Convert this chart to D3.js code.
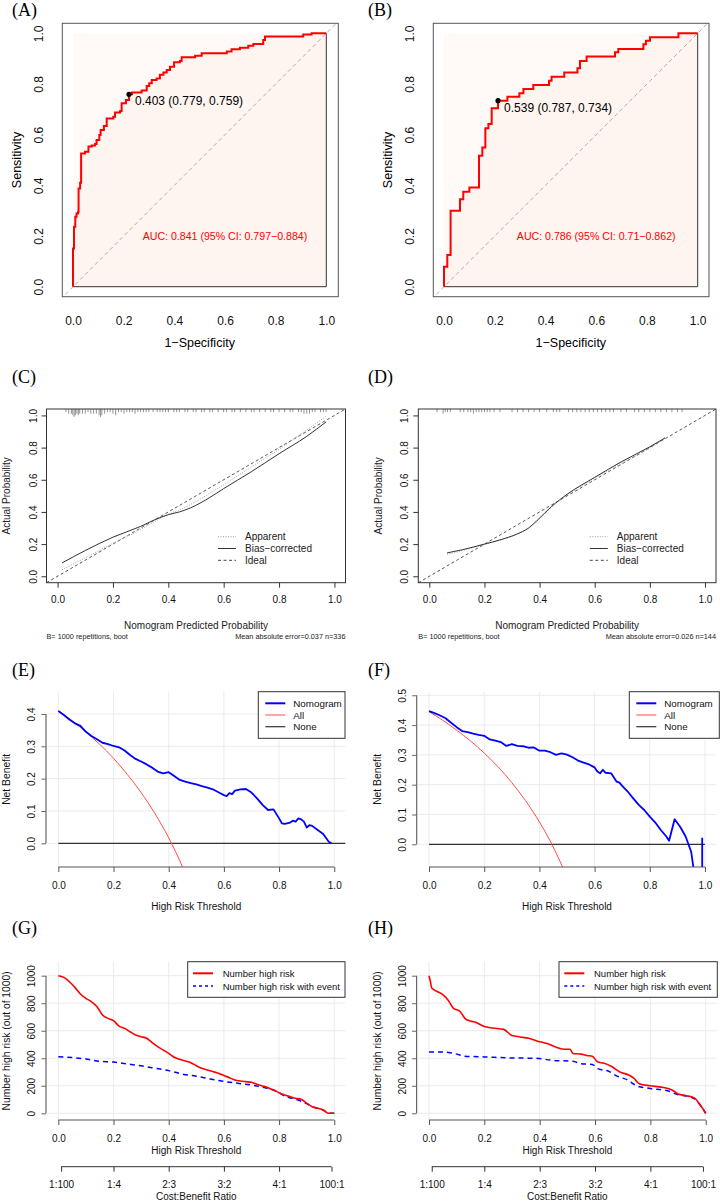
<html>
<head>
<title>Nomogram evaluation</title>
<style>body{margin:0;background:#fff}</style>
</head>
<body>
<div id="chart-area"></div>
<script src="https://d3js.org/d3.v7.min.js"></script>
<script>

// ---------- data ----------
// ROC (A) training, (B) validation : 1-specificity / sensitivity corners
const rocA_fpr = [0,0,0.004,0.009,0.014,0.020,0.022,0.028,0.032,0.047,0.061,0.074,0.087,0.093,0.104,0.109,0.122,0.133,0.159,0.166,0.186,0.192,0.209,0.221,0.233,0.271,0.291,0.301,0.311,0.330,0.343,0.357,0.370,0.383,0.399,0.422,0.429,0.482,0.508,0.607,0.626,0.659,0.692,0.712,0.751,0.758,0.909,0.942,1]
const rocA_tpr = [0,0.151,0.237,0.276,0.289,0.296,0.388,0.41,0.526,0.533,0.553,0.557,0.563,0.579,0.599,0.618,0.634,0.664,0.671,0.687,0.693,0.724,0.737,0.759,0.766,0.774,0.792,0.803,0.816,0.822,0.836,0.845,0.855,0.868,0.886,0.891,0.905,0.911,0.921,0.928,0.937,0.943,0.951,0.958,0.974,0.987,0.995,1,1]
const rocB_fpr = [0,0,0.013,0.026,0.063,0.076,0.100,0.138,0.151,0.163,0.175,0.188,0.213,0.250,0.297,0.313,0.352,0.414,0.424,0.474,0.526,0.536,0.562,0.674,0.687,0.786,0.796,0.812,0.924,1]
const rocB_tpr = [0,0.079,0.125,0.3,0.345,0.375,0.391,0.517,0.549,0.625,0.642,0.704,0.734,0.75,0.763,0.78,0.796,0.813,0.829,0.845,0.862,0.891,0.908,0.925,0.938,0.957,0.971,0.984,1,1]
const bestA = [0.221, 0.759], bestB = [0.213, 0.734]
const bestA_label = "0.403 (0.779, 0.759)", bestB_label = "0.539 (0.787, 0.734)"
const aucA_label = "AUC: 0.841 (95% CI: 0.797\u22120.884)", aucB_label = "AUC: 0.786 (95% CI: 0.71\u22120.862)"
const unitTicks = [0, 0.2, 0.4, 0.6, 0.8, 1.0]

// calibration (C) and (D)
const calC_pred = [0.016,0.1,0.2,0.3,0.352,0.40,0.44,0.48,0.55,0.6,0.7,0.8,0.9,0.97]
const calC_bias = [0.083,0.16,0.243,0.31,0.352,0.383,0.40,0.425,0.49,0.545,0.65,0.762,0.87,0.96]
const calC_appPred = [0.016,0.1,0.2,0.3,0.35,0.4,0.45,0.5,0.6,0.7,0.8,0.9,0.97]
const calC_app = [0.04,0.115,0.205,0.29,0.34,0.385,0.42,0.465,0.57,0.68,0.79,0.91,0.995]
const calD_pred = [0.064,0.12,0.2,0.26,0.317,0.36,0.39,0.444,0.5,0.6,0.7,0.8,0.855]
const calD_bias = [0.145,0.165,0.2,0.228,0.262,0.3,0.345,0.435,0.51,0.615,0.715,0.805,0.86]
const calD_app = [0.135,0.16,0.198,0.226,0.26,0.298,0.342,0.43,0.505,0.61,0.708,0.797,0.86]
const rugC_p = [0.03,0.04,0.05,0.055,0.06,0.065,0.07,0.075,0.08,0.09,0.10,0.11,0.12,0.13,0.14,0.15,0.155,0.16,0.17,0.18,0.19,0.20,0.21,0.22,0.23,0.24,0.25,0.26,0.27,0.28,0.29,0.30,0.31,0.32,0.33,0.345,0.36,0.37,0.38,0.39,0.40,0.42,0.43,0.44,0.46,0.47,0.49,0.50,0.52,0.53,0.55,0.56,0.58,0.60,0.61,0.63,0.64,0.66,0.68,0.70,0.71,0.73,0.75,0.77,0.78,0.80,0.82,0.84,0.85,0.87,0.88,0.89,0.90,0.91,0.92,0.93,0.95,0.96,0.97]
const rugC_n = [1,2,2,3,4,3,2,3,2,2,2,1,2,2,2,3,4,3,2,1,1,2,3,1,1,2,1,1,1,2,1,1,1,1,1,1,1,1,1,1,1,1,1,1,1,1,1,1,1,1,1,1,1,1,1,1,1,1,1,1,1,1,1,1,1,1,1,1,1,1,1,2,2,2,1,1,1,1,1]
const rugD_p = [0.028,0.05,0.058,0.066,0.076,0.112,0.125,0.14,0.15,0.16,0.17,0.18,0.19,0.20,0.21,0.22,0.235,0.256,0.30,0.32,0.34,0.36,0.38,0.40,0.426,0.45,0.462,0.473,0.505,0.52,0.535,0.55,0.565,0.58,0.595,0.61,0.625,0.64,0.655,0.668,0.695,0.715,0.744,0.76,0.78,0.80,0.82,0.84,0.86,0.88,0.90,0.917]
const rugD_n = [1,2,1,1,1,1,1,1,1,2,1,1,1,1,1,1,1,1,1,1,1,1,1,1,1,1,1,1,1,1,1,1,1,1,1,1,1,1,1,1,1,1,1,1,1,1,1,1,1,1,1,1]

// decision curves (E) and (F)
const dcaE_t = [0,0.02,0.04,0.06,0.08,0.10,0.12,0.14,0.16,0.18,0.20,0.22,0.24,0.26,0.28,0.30,0.32,0.34,0.36,0.38,0.40,0.42,0.44,0.46,0.48,0.50,0.52,0.54,0.56,0.58,0.60,0.61,0.62,0.63,0.64,0.66,0.68,0.70,0.72,0.74,0.76,0.78,0.80,0.81,0.82,0.84,0.85,0.86,0.87,0.88,0.89,0.90,0.91,0.92,0.94,0.96,0.98,0.99]
const dcaE_nom = [0.409,0.397,0.383,0.371,0.363,0.345,0.332,0.322,0.311,0.307,0.301,0.297,0.287,0.273,0.261,0.253,0.244,0.234,0.222,0.216,0.220,0.208,0.196,0.191,0.186,0.182,0.177,0.172,0.167,0.158,0.149,0.146,0.155,0.152,0.163,0.167,0.168,0.157,0.139,0.119,0.103,0.105,0.077,0.062,0.060,0.064,0.070,0.067,0.077,0.074,0.067,0.049,0.056,0.054,0.041,0.029,0.005,0]
const dcaAll_t = [0,0.05,0.1,0.15,0.2,0.25,0.3,0.35,0.4,0.45,0.5]
const dcaE_all = [0.41,0.379,0.344,0.306,0.263,0.213,0.157,0.092,0.017,-0.073,-0.18]
const dcaE_noneT = [0, 1.04]
const dcaF_t = [0,0.02,0.04,0.06,0.08,0.10,0.12,0.14,0.16,0.18,0.20,0.22,0.24,0.26,0.28,0.30,0.32,0.34,0.36,0.38,0.40,0.42,0.44,0.46,0.48,0.50,0.52,0.54,0.56,0.58,0.60,0.61,0.62,0.63,0.64,0.66,0.68,0.69,0.70,0.72,0.74,0.76,0.78,0.80,0.82,0.84,0.86,0.87,0.89,0.91,0.93,0.95,0.96,0.99,0.99]
const dcaF_nom = [0.447,0.440,0.432,0.423,0.408,0.393,0.380,0.376,0.371,0.367,0.364,0.352,0.348,0.343,0.330,0.336,0.330,0.329,0.324,0.325,0.314,0.314,0.309,0.300,0.305,0.301,0.292,0.281,0.274,0.268,0.258,0.244,0.238,0.250,0.240,0.238,0.210,0.207,0.196,0.177,0.154,0.132,0.115,0.093,0.073,0.048,0.026,0.012,0.084,0.059,0.026,-0.025,-0.09,-0.09,0.022]
const dcaF_all = [0.445,0.416,0.383,0.347,0.306,0.26,0.207,0.146,0.075,-0.009,-0.11]
const dcaF_noneT = [0, 1.0]
const dcaE_yTicks = [0, 0.1, 0.2, 0.3, 0.4]
const dcaF_yTicks = [0, 0.1, 0.2, 0.3, 0.4, 0.5]
const dcaLegend = ["Nomogram", "All", "None"]

// clinical impact (G) and (H)
const cicG_t = [0,0.02,0.04,0.06,0.08,0.10,0.12,0.14,0.16,0.18,0.20,0.22,0.24,0.26,0.28,0.30,0.32,0.34,0.36,0.38,0.40,0.42,0.44,0.46,0.48,0.50,0.52,0.54,0.56,0.58,0.60,0.62,0.64,0.66,0.68,0.70,0.72,0.74,0.76,0.78,0.80,0.82,0.84,0.86,0.88,0.90,0.92,0.94,0.96,0.98,1.0]
const cicG_high = [1000,988,956,915,867,835,811,775,714,690,673,634,617,593,569,557,545,513,484,460,436,407,392,380,368,346,327,315,303,291,274,259,242,235,230,225,211,199,186,169,150,133,121,109,102,73,48,36,24,0,0]
const cicG_evT = [0,0.05,0.1,0.15,0.2,0.25,0.3,0.35,0.4,0.45,0.5,0.55,0.6,0.65,0.7,0.75,0.8,0.82,0.85,0.9,0.92,0.95,0.97,0.98,1.0]
const cicG_event = [411,405,395,378,372,358,345,328,310,285,270,250,232,218,205,185,150,125,108,70,48,32,12,0,0]
const cicH_t = [0,0.005,0.01,0.03,0.05,0.07,0.09,0.11,0.13,0.15,0.17,0.20,0.23,0.27,0.30,0.33,0.36,0.40,0.43,0.46,0.49,0.51,0.52,0.55,0.57,0.59,0.61,0.63,0.66,0.69,0.72,0.74,0.76,0.80,0.84,0.88,0.90,0.93,0.96,0.98,1.0]
const cicH_high = [1000,960,910,885,862,820,760,745,690,670,660,630,620,610,565,555,545,520,505,480,465,465,435,430,420,415,372,365,340,300,280,255,215,200,190,168,140,128,110,60,0]
const cicH_evT = [0,0.05,0.07,0.10,0.13,0.20,0.30,0.38,0.45,0.52,0.55,0.59,0.61,0.65,0.68,0.72,0.75,0.80,0.86,0.90,0.93,0.96,0.98,1.0]
const cicH_event = [445,445,442,430,415,410,402,400,385,378,360,355,325,305,270,240,200,180,165,135,125,105,60,0]
const cicYTicks = [0, 200, 400, 600, 800, 1000]
const costT = [0.01, 0.2, 0.4, 0.6, 0.8, 0.99]
const costLabels = ["1:100", "1:4", "2:3", "3:2", "4:1", "100:1"]
const cicLegend = ["Number high risk", "Number high risk with event"]

// ---------- helpers ----------
const FONT = "'Liberation Sans', Arial, Helvetica, sans-serif"
const SERIF = "'Liberation Serif', 'Times New Roman', serif"

const svg = d3.select("#chart-area").append("svg")
    .attr("width", 720).attr("height", 1203)
    .style("display", "block")

function txt(g, x, y, s, size, o = {}) {
    return g.append("text")
        .attr("x", x).attr("y", y)
        .attr("font-family", o.family || FONT)
        .attr("font-size", size + "px")
        .attr("fill", o.fill || "#000")
        .attr("text-anchor", o.anchor || "middle")
        .attr("dominant-baseline", o.baseline || "central")
        .text(s)
}
function vtxt(g, x, y, s, size, fill) {
    return g.append("text")
        .attr("transform", `translate(${x},${y}) rotate(-90)`)
        .attr("font-family", FONT).attr("font-size", size + "px")
        .attr("fill", fill || "#000")
        .attr("text-anchor", "middle").attr("dominant-baseline", "central")
        .text(s)
}
function panelLabel(s, x, y) {
    txt(svg, x, y, s, 18, { family: SERIF, anchor: "start", baseline: "auto" })
}
// bottom axis with labels centred "off" px below
function bottomAxis(g, x, yPos, ticks, fmt, tick, off, size, color) {
    const ax = g.append("g").attr("transform", `translate(0,${yPos})`)
        .call(d3.axisBottom(x).tickValues(ticks).tickFormat(fmt).tickSize(tick))
        .call(a => a.select(".domain").remove())
    ax.selectAll("line").attr("stroke", color)
    ax.selectAll("text").attr("y", off).attr("dy", null)
        .attr("dominant-baseline", "central")
        .attr("font-family", FONT).attr("font-size", size + "px").attr("fill", "#111")
    return ax
}
function leftAxis(g, y, xPos, ticks, fmt, tick, off, size, color) {
    const ax = g.append("g").attr("transform", `translate(${xPos},0)`)
        .call(d3.axisLeft(y).tickValues(ticks).tickFormat(fmt).tickSize(tick))
        .call(a => a.select(".domain").remove())
    ax.selectAll("line").attr("stroke", color)
    ax.selectAll("text").attr("x", null).attr("dy", null)
        .attr("transform", `translate(${-off},0) rotate(-90)`)
        .attr("text-anchor", "middle").attr("dominant-baseline", "central")
        .attr("font-family", FONT).attr("font-size", size + "px").attr("fill", "#111")
    return ax
}
let clipN = 0
function clipRect(x0, y0, x1, y1) {
    const id = "clip" + (clipN++)
    svg.append("clipPath").attr("id", id).append("rect")
        .attr("x", x0).attr("y", y0).attr("width", x1 - x0).attr("height", y1 - y0)
    return `url(#${id})`
}

// ---------- ROC ----------
function drawRoc(L, fpr, tpr, best, bestLabel, aucLabel) {
    const g = svg.append("g")
    const x = d3.scaleLinear().domain([0, 1]).range([L.xa, L.xb])
    const y = d3.scaleLinear().domain([0, 1]).range([L.ya, L.yb])
    const pts = fpr.map((f, i) => [f, tpr[i]])

    g.append("rect").attr("x", x(0)).attr("y", y(1))
        .attr("width", x(1) - x(0)).attr("height", y(0) - y(1))
        .attr("fill", "#fffaf8")
    g.append("path")
        .datum(pts)
        .attr("d", d3.area().curve(d3.curveStepAfter).x(d => x(d[0])).y0(y(0)).y1(d => y(d[1])))
        .attr("fill", "#fef4f0")
    // max auc square border (right and bottom)
    g.append("path")
        .attr("d", `M${x(1)},${y(1)}L${x(1)},${y(0)}L${x(0)},${y(0)}`)
        .attr("fill", "none").attr("stroke", "#333").attr("stroke-width", 1)

    g.append("line")
        .attr("x1", x(-0.05)).attr("y1", y(-0.05)).attr("x2", x(1.05)).attr("y2", y(1.05))
        .attr("clip-path", clipRect(L.x0, L.y0, L.x1, L.y1))
        .attr("stroke", "#999").attr("stroke-width", 0.8).attr("stroke-dasharray", "4,3")

    g.append("path").datum(pts)
        .attr("d", d3.line().curve(d3.curveStepAfter).x(d => x(d[0])).y(d => y(d[1])))
        .attr("fill", "none").attr("stroke", "#ff0000").attr("stroke-width", 2)

    g.append("rect").attr("x", L.x0).attr("y", L.y0)
        .attr("width", L.x1 - L.x0).attr("height", L.y1 - L.y0)
        .attr("fill", "none").attr("stroke", "#555").attr("stroke-width", 1)

    g.append("circle").attr("cx", x(best[0])).attr("cy", y(best[1])).attr("r", 2.6).attr("fill", "#000")
    txt(g, x(best[0]) + 6, y(best[1]) + 11, bestLabel, 12, { anchor: "start", baseline: "auto" })
    txt(g, x(0.6), y(0.2), aucLabel, 10.6, { fill: "#ff0000" })

    bottomAxis(g, x, L.y1, unitTicks, d3.format(".1f"), 0, 24.3, 12, "#555")
    leftAxis(g, y, L.x0, unitTicks, d3.format(".1f"), 0, 23.1, 12, "#555")
    txt(g, (x(0) + x(1)) / 2, L.y1 + 46.3, "1\u2212Specificity", 12.5)
    vtxt(g, L.x0 - 45.8, (y(0) + y(1)) / 2, "Sensitivity", 12.5)
}

// ---------- calibration ----------
function drawCal(L, pred, bias, appPred, app, rugP, rugN, footL, footR) {
    const g = svg.append("g")
    const x = d3.scaleLinear().domain([-0.04, 1.04]).range([L.x0, L.x1])
    const y = d3.scaleLinear().domain([-0.04, 1.04]).range([L.y1, L.y0])
    const clip = clipRect(L.x0, L.y0, L.x1, L.y1)

    g.selectAll(".rug").data(rugP).enter().append("line")
        .attr("x1", d => x(d)).attr("x2", d => x(d))
        .attr("y1", L.y0).attr("y2", (d, i) => L.y0 + 1.5 + rugN[i] * 1.6)
        .attr("stroke", "#666").attr("stroke-width", 0.7)

    g.append("line").attr("clip-path", clip)
        .attr("x1", x(-0.04)).attr("y1", y(-0.04)).attr("x2", x(1.04)).attr("y2", y(1.04))
        .attr("stroke", "#444").attr("stroke-width", 0.9).attr("stroke-dasharray", "3,2.5")
    const line = d3.line().curve(d3.curveMonotoneX).x(d => x(d[0])).y(d => y(d[1]))
    g.append("path").datum(appPred.map((p, i) => [p, app[i]])).attr("d", line)
        .attr("fill", "none").attr("stroke", "#999").attr("stroke-width", 0.9).attr("stroke-dasharray", "1,1.5")
    g.append("path").datum(pred.map((p, i) => [p, bias[i]])).attr("d", line)
        .attr("fill", "none").attr("stroke", "#333").attr("stroke-width", 1)

    g.append("rect").attr("x", L.x0).attr("y", L.y0)
        .attr("width", L.x1 - L.x0).attr("height", L.y1 - L.y0)
        .attr("fill", "none").attr("stroke", "#333").attr("stroke-width", 1)

    bottomAxis(g, x, L.y1, unitTicks, d3.format(".1f"), 5, 17.3, 10, "#333")
    leftAxis(g, y, L.x0, unitTicks, d3.format(".1f"), 5, 13.5, 10, "#333")
    txt(g, (L.x0 + L.x1) / 2, L.y1 + 42.3, "Nomogram Predicted Probability", 10, { fill: "#222" })
    vtxt(g, L.x0 - 40.3, (L.y0 + L.y1) / 2, "Actual Probability", 10, "#222")

    const legend = [
        { name: "Apparent", stroke: "#999", dash: "1,1.5" },
        { name: "Bias\u2212corrected", stroke: "#333", dash: null },
        { name: "Ideal", stroke: "#444", dash: "3,2.5" }
    ]
    legend.forEach((d, i) => {
        const ry = L.y0 + 127.7 + i * 11.8
        g.append("line").attr("x1", L.x0 + 171.5).attr("x2", L.x0 + 189.5)
            .attr("y1", ry).attr("y2", ry)
            .attr("stroke", d.stroke).attr("stroke-width", 1).attr("stroke-dasharray", d.dash)
        txt(g, L.x0 + 198.5, ry, d.name, 10, { anchor: "start", fill: "#222" })
    })
    txt(g, L.x0, 636, footL, 7.3, { anchor: "start", fill: "#222" })
    txt(g, L.x1, 636, footR, 7.3, { anchor: "end", fill: "#222" })
}

// ---------- grid / axes for E-H ----------
function gridPanel(g, L, x, y, yTicks) {
    unitTicks.forEach(t => g.append("line")
        .attr("x1", x(t)).attr("x2", x(t)).attr("y1", L.y0).attr("y2", L.y1)
        .attr("stroke", "#ebebeb").attr("stroke-width", 1))
    yTicks.forEach(t => g.append("line")
        .attr("x1", L.x0).attr("x2", L.x1).attr("y1", y(t)).attr("y2", y(t))
        .attr("stroke", "#ebebeb").attr("stroke-width", 1))
}
function axesPanel(g, L, x, y, yTicks, yFmt, yTitle) {
    g.append("line").attr("x1", x(0)).attr("x2", x(1)).attr("y1", L.y1).attr("y2", L.y1)
        .attr("stroke", "#555").attr("stroke-width", 1)
    bottomAxis(g, x, L.y1, unitTicks, d3.format(".1f"), 5, 18, 10, "#555")
    const ax = L.x0 - 1.3
    g.append("line").attr("x1", ax).attr("x2", ax)
        .attr("y1", y(yTicks[0])).attr("y2", y(yTicks[yTicks.length - 1]))
        .attr("stroke", "#666").attr("stroke-width", 1.2)
    leftAxis(g, y, ax, yTicks, yFmt, 4.5, 14.6, 10, "#666")
    vtxt(g, L.x0 - 40.5, (L.y0 + L.y1) / 2, yTitle, 10.3, "#111")
}
function legendBox(g, Lg, items) {
    g.append("rect").attr("x", Lg.left).attr("y", Lg.top)
        .attr("width", Lg.w).attr("height", Lg.h)
        .attr("fill", "#fff").attr("stroke", "#333").attr("stroke-width", 1)
    items.forEach((d, i) => {
        const ry = Lg.top + Lg.row0 + i * Lg.step
        g.append("line").attr("x1", Lg.left + Lg.lx0).attr("x2", Lg.left + Lg.lx1)
            .attr("y1", ry).attr("y2", ry)
            .attr("stroke", d.stroke).attr("stroke-width", d.width).attr("stroke-dasharray", d.dash)
        txt(g, Lg.left + Lg.tx, ry, d.name, Lg.fs, { anchor: "start", fill: "#111" })
    })
}

// ---------- decision curves ----------
function drawDca(L, Lg, t, nom, all, noneT, yTicks) {
    const g = svg.append("g")
    const x = d3.scaleLinear().domain([-0.04, 1.04]).range([L.x0, L.x1])
    const y = d3.scaleLinear().domain(L.yDom).range([L.y1, L.y0])
    const clip = clipRect(L.x0, L.y0, L.x1, L.y1)
    gridPanel(g, L, x, y, yTicks)

    g.append("path").datum(noneT.map(v => [v, 0]))
        .attr("d", d3.line().x(d => x(d[0])).y(d => y(d[1])))
        .attr("stroke", "#333").attr("stroke-width", 1.2).attr("fill", "none")
    g.append("path").attr("clip-path", clip)
        .datum(dcaAll_t.map((v, i) => [v, all[i]]))
        .attr("d", d3.line().curve(d3.curveMonotoneX).x(d => x(d[0])).y(d => y(d[1])))
        .attr("stroke", "#ff4d4d").attr("stroke-width", 1).attr("fill", "none")
    g.append("path").attr("clip-path", clip)
        .datum(t.map((v, i) => [v, nom[i]]))
        .attr("d", d3.line().x(d => x(d[0])).y(d => y(d[1])))
        .attr("stroke", "#0000ff").attr("stroke-width", 1.8).attr("fill", "none")
        .attr("stroke-linejoin", "round")

    axesPanel(g, L, x, y, yTicks, d3.format(".1f"), "Net Benefit")
    txt(g, (x(0) + x(1)) / 2, L.y1 + 39.7, "High Risk Threshold", 10, { fill: "#111" })
    legendBox(g, Lg, [
        { name: dcaLegend[0], stroke: "#0000ff", width: 2, dash: null },
        { name: dcaLegend[1], stroke: "#ff4d4d", width: 1, dash: null },
        { name: dcaLegend[2], stroke: "#333", width: 1.2, dash: null }
    ])
}

// ---------- clinical impact ----------
function drawCic(L, Lg, tH, high, tE, event) {
    const g = svg.append("g")
    const x = d3.scaleLinear().domain([-0.04, 1.04]).range([L.x0, L.x1])
    const y = d3.scaleLinear().domain([-48.7, 1101.7]).range([L.y1, L.y0])
    gridPanel(g, L, x, y, cicYTicks)

    g.append("path").datum(tE.map((v, i) => [v, event[i]]))
        .attr("d", d3.line().curve(d3.curveMonotoneX).x(d => x(d[0])).y(d => y(d[1])))
        .attr("stroke", "#0000ff").attr("stroke-width", 1.5).attr("fill", "none")
        .attr("stroke-dasharray", "5,4")
    g.append("path").datum(tH.map((v, i) => [v, high[i]]))
        .attr("d", d3.line().curve(d3.curveMonotoneX).x(d => x(d[0])).y(d => y(d[1])))
        .attr("stroke", "#ff0000").attr("stroke-width", 1.6).attr("fill", "none")

    axesPanel(g, L, x, y, cicYTicks, d3.format("d"), "Number high risk (out of 1000)")
    txt(g, (x(0) + x(1)) / 2, L.y1 + 30, "High Risk Threshold", 10, { fill: "#111" })

    // cost:benefit axis
    const cy = L.y1 + 46.7
    g.append("line").attr("x1", x(costT[0])).attr("x2", x(costT[costT.length - 1]))
        .attr("y1", cy).attr("y2", cy).attr("stroke", "#333").attr("stroke-width", 1)
    bottomAxis(g, x, cy, costT, (d, i) => costLabels[i], 5, 17.6, 10, "#333")
    txt(g, (x(0) + x(1)) / 2, L.y1 + 76, "Cost:Benefit Ratio", 10, { fill: "#111" })

    legendBox(g, Lg, [
        { name: cicLegend[0], stroke: "#ff0000", width: 2, dash: null },
        { name: cicLegend[1], stroke: "#0000ff", width: 1.5, dash: "3,3" }
    ])
}

// ---------- layout ----------
drawRoc({ x0: 62.3, x1: 338.3, y0: 23.3, y1: 296.7, xa: 73, xb: 326.3, ya: 286.7, yb: 33.3 },
    rocA_fpr, rocA_tpr, bestA, bestA_label, aucA_label)
drawRoc({ x0: 433.3, x1: 709, y0: 23.3, y1: 296.7, xa: 444, xb: 697.7, ya: 286.7, yb: 33.3 },
    rocB_fpr, rocB_tpr, bestB, bestB_label, aucB_label)

drawCal({ x0: 46.5, x1: 345.5, y0: 409, y1: 582.7 }, calC_pred, calC_bias, calC_appPred, calC_app,
    rugC_p, rugC_n, "B= 1000 repetitions, boot", "Mean absolute error=0.037 n=336")
drawCal({ x0: 418.3, x1: 716, y0: 409, y1: 582.7 }, calD_pred, calD_bias, calD_pred, calD_app,
    rugD_p, rugD_n, "B= 1000 repetitions, boot", "Mean absolute error=0.026 n=144")

const dcaLg = { top: 691.7, h: 46.6, row0: 11.6, step: 11.7, lx0: 7, lx1: 27, tx: 35, fs: 9.8 }
drawDca({ x0: 47.3, x1: 345.3, y0: 691.7, y1: 867, yDom: [-0.0733, 0.4689] },
    Object.assign({ left: 258.3, w: 86.7 }, dcaLg), dcaE_t, dcaE_nom, dcaE_all, dcaE_noneT, dcaE_yTicks)
drawDca({ x0: 418, x1: 716, y0: 691.7, y1: 867, yDom: [-0.0762, 0.512] },
    Object.assign({ left: 629.3, w: 90 }, dcaLg), dcaF_t, dcaF_nom, dcaF_all, dcaF_noneT, dcaF_yTicks)

const cicLg = { top: 961.7, h: 35.6, row0: 11.6, step: 12.7, lx0: 5.3, lx1: 25.3, tx: 35, fs: 9.5 }
drawCic({ x0: 47.3, x1: 345.3, y0: 961.7, y1: 1120 }, Object.assign({ left: 187.7, w: 157.3 }, cicLg),
    cicG_t, cicG_high, cicG_evT, cicG_event)
drawCic({ x0: 417.9, x1: 716.8, y0: 961.7, y1: 1120 }, Object.assign({ left: 559, w: 158.3 }, cicLg),
    cicH_t, cicH_high, cicH_evT, cicH_event)

panelLabel("(A)", 12, 16)
panelLabel("(B)", 368, 16)
panelLabel("(C)", 12, 383)
panelLabel("(D)", 368, 383)
panelLabel("(E)", 12, 676)
panelLabel("(F)", 368, 676)
panelLabel("(G)", 12, 934)
panelLabel("(H)", 368, 934)

</script>
</body>
</html>
